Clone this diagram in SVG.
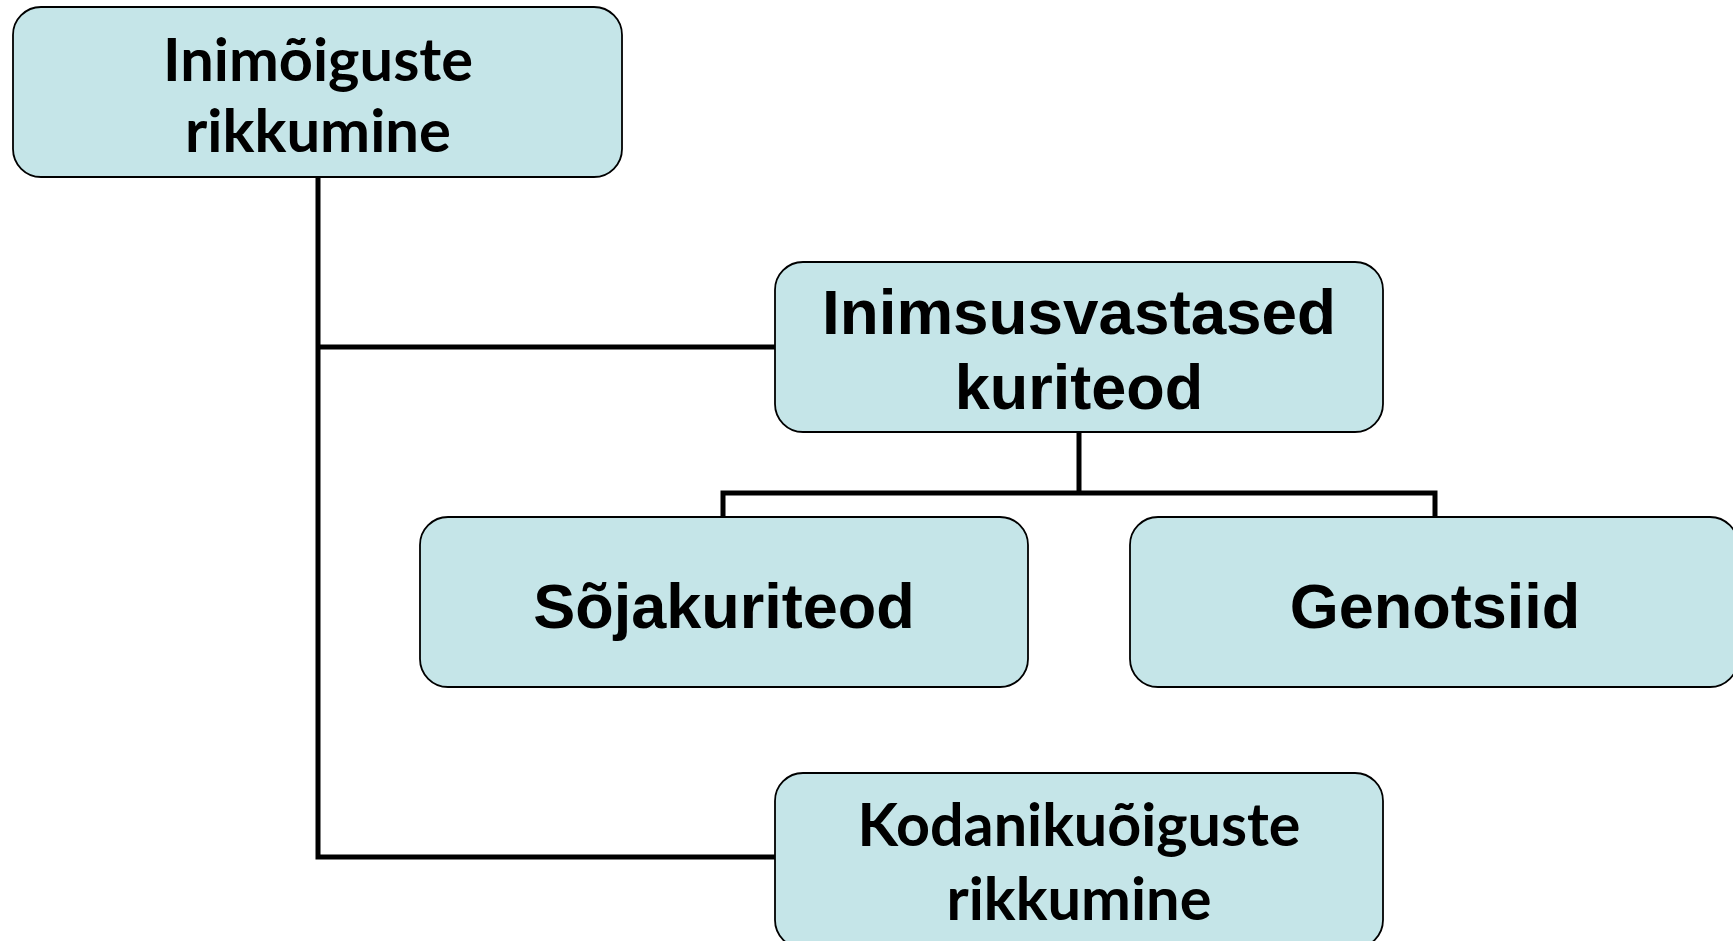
<svg xmlns="http://www.w3.org/2000/svg" width="1733" height="941" viewBox="0 0 1733 941">
<style>
.box{fill:#C5E5E8;stroke:#000;stroke-width:1.8}
.conn{fill:none;stroke:#000;stroke-width:5;stroke-linejoin:miter;stroke-linecap:butt}
.ta{font-family:"Liberation Sans",Arial,sans-serif;font-weight:bold;font-size:63px;fill:#000;text-anchor:middle}
.tc{font-family:Lato,"Open Sans",sans-serif;font-weight:bold;font-size:60px;fill:#000;text-anchor:middle}
</style>
<rect width="1733" height="941" fill="#fff"/>
<g id="connectors">
<path class="conn" d="M318 177 V857 H775"/>
<path class="conn" d="M318 347 H775"/>
<path class="conn" d="M1079 432 V493"/>
<path class="conn" d="M723 517 V493 H1435 V517"/>
</g>
<g id="node-inimoiguste">
<rect class="box" x="13" y="7" width="609" height="170" rx="28"/>
<text class="tc" x="318" y="81" textLength="310" lengthAdjust="spacingAndGlyphs">Inimõiguste</text>
<text class="tc" x="318" y="152" textLength="266" lengthAdjust="spacingAndGlyphs">rikkumine</text>
</g>
<g id="node-inimsusvastased">
<rect class="box" x="775" y="262" width="608" height="170" rx="28"/>
<text class="ta" x="1079" y="334" textLength="514" lengthAdjust="spacingAndGlyphs">Inimsusvastased</text>
<text class="ta" x="1079" y="409">kuriteod</text>
</g>
<g id="node-sojakuriteod">
<rect class="box" x="420" y="517" width="608" height="170" rx="28"/>
<text class="ta" x="724" y="628">Sõjakuriteod</text>
</g>
<g id="node-genotsiid">
<rect class="box" x="1130" y="517" width="608" height="170" rx="28"/>
<text class="ta" x="1435" y="628">Genotsiid</text>
</g>
<g id="node-kodanikuoiguste">
<rect class="box" x="775" y="773" width="608" height="175" rx="28"/>
<text class="tc" x="1079" y="846" textLength="443" lengthAdjust="spacingAndGlyphs">Kodanikuõiguste</text>
<text class="tc" x="1079" y="920" textLength="265" lengthAdjust="spacingAndGlyphs">rikkumine</text>
</g>
</svg>
